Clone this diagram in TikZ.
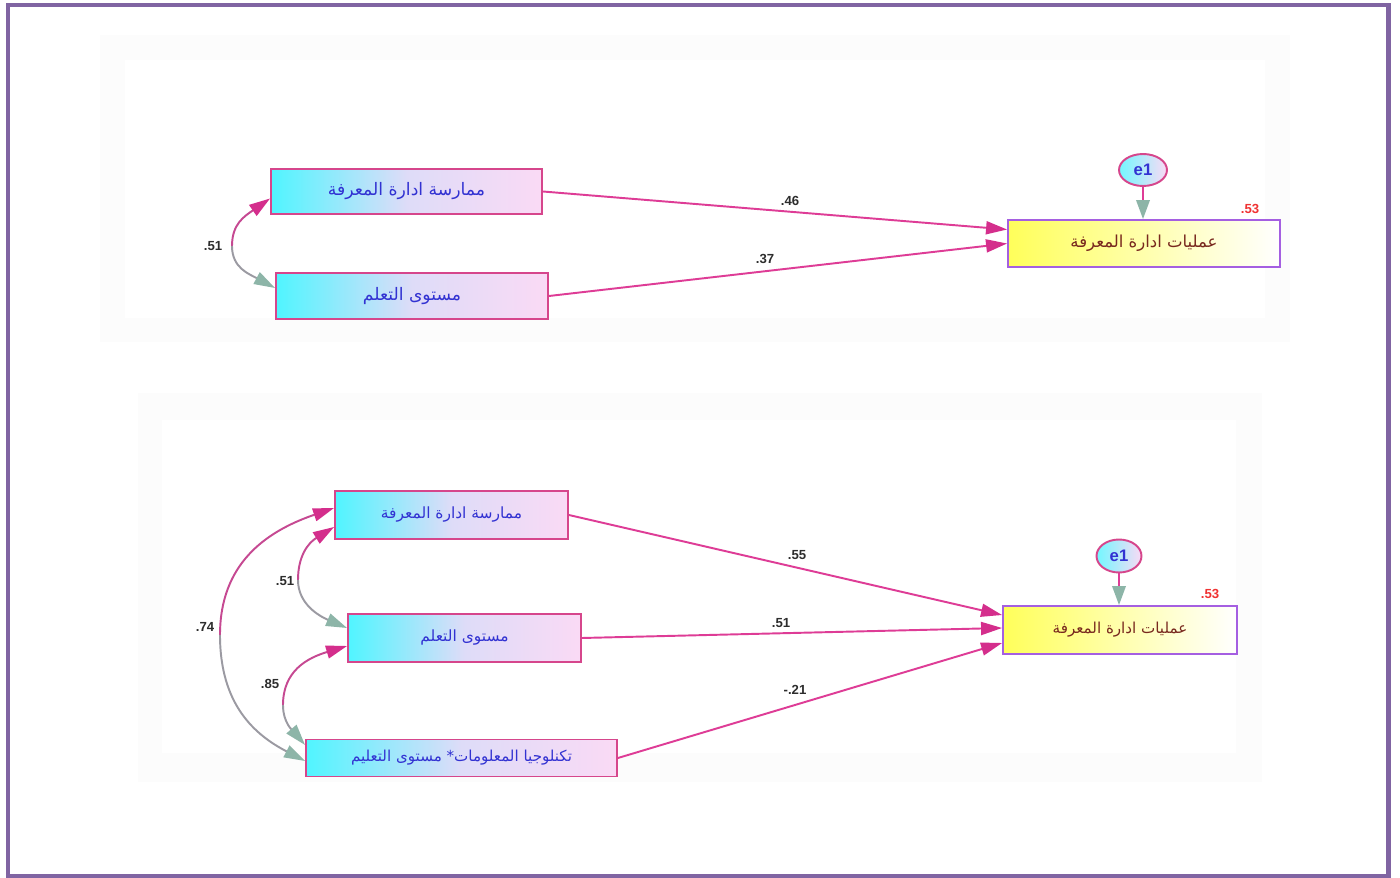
\documentclass[tikz,border=0pt]{standalone}
\usepackage{fontspec}
\setmainfont{Liberation Sans}
\newfontfamily\arabicfont[Script=Arabic]{DejaVu Sans}
\TeXXeTstate=1
\usetikzlibrary{arrows.meta,shapes.geometric}

\definecolor{framepurple}{RGB}{128,100,162}
\definecolor{boxedge}{RGB}{214,70,140}
\definecolor{boxcyan}{RGB}{80,245,255}
\definecolor{boxlav}{RGB}{222,220,248}
\definecolor{boxpink}{RGB}{250,218,245}
\definecolor{opsedge}{RGB}{165,95,225}
\definecolor{opsyellow}{RGB}{255,255,90}
\definecolor{txtblue}{RGB}{50,50,210}
\definecolor{txtbrown}{RGB}{120,40,30}
\definecolor{linepink}{RGB}{222,60,150}
\definecolor{tipmag}{RGB}{212,46,140}
\definecolor{tipgray}{RGB}{141,181,168}
\definecolor{rsqred}{RGB}{240,50,50}
\definecolor{coefgray}{RGB}{45,45,45}

\tikzset{
  varbox/.style={draw=boxedge, line width=1.1pt, left color=boxcyan, right color=boxpink,
    middle color=boxlav, text=txtblue, inner sep=0pt},
  opsbox/.style={draw=opsedge, line width=1.1pt, left color=opsyellow, right color=white,
    text=txtbrown, inner sep=0pt},
  errnode/.style={ellipse, draw=boxedge, line width=1.1pt, left color=boxcyan!80, right color=boxpink,
    text=txtblue, font=\fontsize{9.5}{10}\selectfont\bfseries, inner sep=0pt},
  coef/.style={text=coefgray, font=\fontsize{7.5}{8}\selectfont\bfseries, inner sep=1pt},
  rsq/.style={text=rsqred, font=\fontsize{7.5}{8}\selectfont\bfseries, inner sep=1pt},
  regarrow/.style={draw=linepink, line width=1.1pt, -{Triangle[length=0.42cm,width=0.26cm,color=tipmag]}},
  errarrow/.style={draw=linepink, line width=1.1pt, -{Triangle[length=0.38cm,width=0.27cm,color=tipgray]}},
  covup/.style={draw=tipmag!80!tipgray, line width=1.1pt, {Triangle[length=0.42cm,width=0.26cm,color=tipmag]}-},
  covdown/.style={draw=tipgray!80!tipmag, line width=1.1pt, -{Triangle[length=0.42cm,width=0.26cm,color=tipgray]}},
  panel/.style={fill=black!1.3, draw=none}
}

\begin{document}
\begin{tikzpicture}[x=0.02cm,y=-0.02cm]
  \useasboundingbox (0,0) rectangle (1400,878);
  \fill[white] (0,0) rectangle (1400,878);
  % faint panels
  \fill[panel] (100,35) rectangle (1290,342);
  \fill[white] (125,60) rectangle (1265,318);
  \fill[panel] (138,393) rectangle (1262,782);
  \fill[white] (162,420) rectangle (1236,753);
  \draw[framepurple, line width=2.8pt] (8,5) rectangle (1388.5,876.5);

  % top model
  \node[varbox, minimum width=5.42cm, minimum height=0.9cm,
    font=\arabicfont\fontsize{9.8}{10}\selectfont] (mka) at (406.5,191.5) {\beginR ممارسة ادارة المعرفة\endR};
  \node[varbox, minimum width=5.44cm, minimum height=0.92cm,
    font=\arabicfont\fontsize{9.8}{10}\selectfont] (lrna) at (412,296) {\beginR مستوى التعلم\endR};
  \node[opsbox, minimum width=5.44cm, minimum height=0.94cm,
    font=\arabicfont\fontsize{9.4}{10}\selectfont] (opsa) at (1144,243.5) {\beginR عمليات ادارة المعرفة\endR};
  \node[errnode, minimum width=0.96cm, minimum height=0.64cm] (ea) at (1143,170) {e1};
  \node[rsq] (ra) at (1250,209) {.53};

  \draw[regarrow] (mka.east) -- ([yshift=0.28cm]opsa.west);
  \draw[regarrow] (lrna.east) -- (opsa.west);
  \draw[errarrow] (ea.south) -- (ea.south |- opsa.north);
  \node[coef] (ca1) at (790,201) {.46};
  \node[coef] (ca2) at (765,259) {.37};

  \coordinate (ka) at (232,246);
  \draw[covup] ([yshift=-0.14cm]mka.west) .. controls +(-26,18) and +(0,-22) .. (ka);
  \draw[covdown] (ka) .. controls +(0,22) and +(-26,-14) .. ([yshift=0.16cm]lrna.west);
  \node[coef] (ca3) at (213,246) {.51};

  % bottom model
  \node[varbox, minimum width=4.66cm, minimum height=0.96cm,
    font=\arabicfont\fontsize{8.8}{10}\selectfont] (mkb) at (451.5,515) {\beginR ممارسة ادارة المعرفة\endR};
  \node[varbox, minimum width=4.66cm, minimum height=0.96cm,
    font=\arabicfont\fontsize{8.8}{10}\selectfont] (lrnb) at (464.5,638) {\beginR مستوى التعلم\endR};
  \node[varbox, minimum width=6.22cm, minimum height=0.74cm,
    font=\arabicfont\fontsize{8.6}{10}\selectfont] (itb) at (461.5,758) {\beginR تكنلوجيا المعلومات* مستوى التعليم\endR};
  \node[opsbox, minimum width=4.68cm, minimum height=0.96cm,
    font=\arabicfont\fontsize{8.6}{10}\selectfont] (opsb) at (1120,630) {\beginR عمليات ادارة المعرفة\endR};
  \node[errnode, minimum width=0.9cm, minimum height=0.66cm] (eb) at (1119,556) {e1};
  \node[rsq] (rb) at (1210,594) {.53};

  \draw[regarrow] (mkb.east) -- ([yshift=0.3cm]opsb.west);
  \draw[regarrow] (lrnb.east) -- ([yshift=0.04cm]opsb.west);
  \draw[regarrow] (itb.east) -- ([yshift=-0.26cm]opsb.west);
  \draw[errarrow] (eb.south) -- (eb.south |- opsb.north);
  \node[coef] (cb1) at (797,555) {.55};
  \node[coef] (cb2) at (781,623) {.51};
  \node[coef] (cb3) at (795,690) {-.21};

  \coordinate (kb1) at (298,580);
  \draw[covup] ([yshift=-0.24cm]mkb.west) .. controls +(-26,16) and +(0,-24) .. (kb1);
  \draw[covdown] (kb1) .. controls +(0,24) and +(-28,-12) .. ([yshift=0.2cm]lrnb.west);
  \node[coef] (cb4) at (285,581) {.51};

  \coordinate (kb2) at (283,705);
  \draw[covup] ([yshift=-0.16cm]lrnb.west) .. controls +(-40,12) and +(0,-34) .. (kb2);
  \draw[covdown] (kb2) .. controls +(0,18) and +(-12,-14) .. ([yshift=0.26cm]itb.west);
  \node[coef] (cb5) at (270,684) {.85};

  \coordinate (kb3) at (220,635);
  \draw[covup] ([yshift=0.14cm]mkb.west) .. controls +(-70,24) and +(0,-70) .. (kb3);
  \draw[covdown] (kb3) .. controls +(0,70) and +(-50,-26) .. ([yshift=-0.06cm]itb.west);
  \node[coef] (cb6) at (205,627) {.74};
\end{tikzpicture}
\end{document}
